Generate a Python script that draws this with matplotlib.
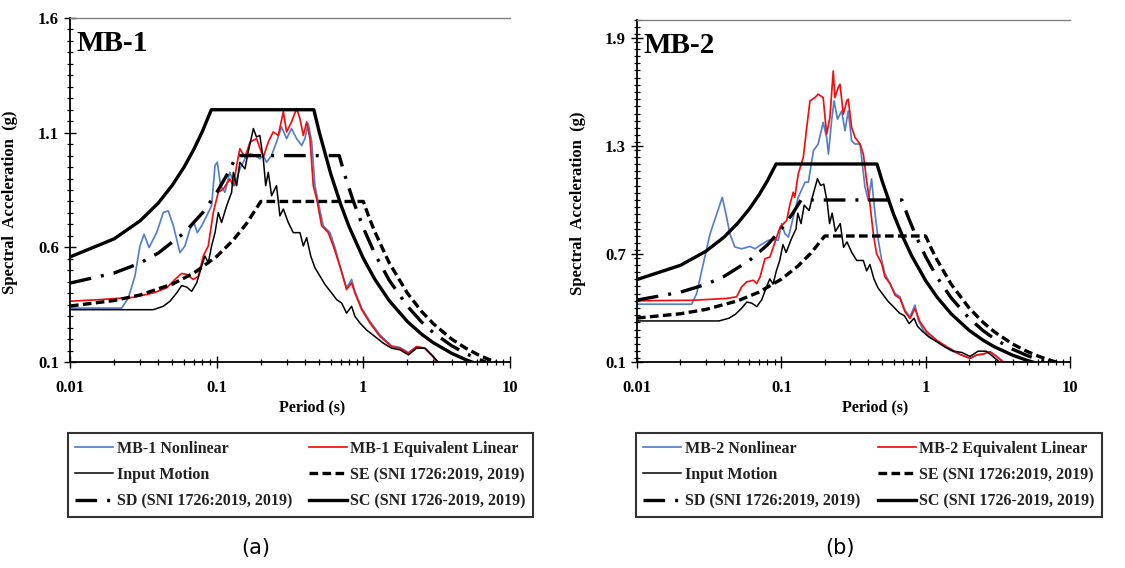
import numpy as np
import matplotlib
matplotlib.use("Agg")
import matplotlib.pyplot as plt
from matplotlib.ticker import FixedLocator, MultipleLocator, LogLocator, NullFormatter

plt.rcParams['font.family'] = ['Liberation Serif', 'DejaVu Serif']
plt.rcParams['font.weight'] = 'bold'

# response spectra: (period s, Sa g)
input_motion = [(0.010, 0.328), (0.037, 0.328), (0.0433, 0.343), (0.0481, 0.365), (0.0534, 0.401),
                (0.0577, 0.433), (0.0624, 0.427), (0.0676, 0.408), (0.0731, 0.445), (0.0791, 0.518),
                (0.0832, 0.562), (0.0877, 0.533), (0.0924, 0.606), (0.0975, 0.664), (0.1026, 0.752),
                (0.108, 0.708), (0.117, 0.781), (0.1265, 0.840), (0.130, 0.927), (0.137, 0.869),
                (0.144, 0.971), (0.156, 0.942), (0.164, 1.015), (0.178, 1.118), (0.187, 1.081),
                (0.197, 1.088), (0.208, 0.986), (0.216, 0.869), (0.225, 0.927), (0.237, 0.825),
                (0.256, 0.869), (0.270, 0.737), (0.285, 0.767), (0.308, 0.708), (0.333, 0.664),
                (0.370, 0.664), (0.390, 0.606), (0.411, 0.642), (0.438, 0.562), (0.468, 0.511),
                (0.507, 0.474), (0.548, 0.438), (0.608, 0.401), (0.658, 0.372), (0.712, 0.357),
                (0.769, 0.313), (0.832, 0.343), (0.877, 0.299), (0.949, 0.270), (1.05, 0.240),
                (1.20, 0.211), (1.37, 0.182), (1.56, 0.160), (1.78, 0.153), (2.03, 0.131),
                (2.31, 0.160), (2.63, 0.160), (2.92, 0.131), (3.25, 0.100)]

mb1_nl = [(0.010, 0.335), (0.0225, 0.335), (0.025, 0.379), (0.0277, 0.474), (0.030, 0.606),
          (0.032, 0.657), (0.0346, 0.599), (0.039, 0.664), (0.0433, 0.752), (0.0468, 0.759),
          (0.0507, 0.694), (0.0562, 0.577), (0.0608, 0.606), (0.0658, 0.679), (0.070, 0.708),
          (0.0738, 0.664), (0.0791, 0.694), (0.0855, 0.737), (0.0924, 0.781), (0.0975, 0.957),
          (0.101, 0.971), (0.1064, 0.869), (0.114, 0.840), (0.123, 0.927), (0.133, 0.869),
          (0.144, 0.942), (0.156, 0.986), (0.169, 1.008), (0.182, 1.001), (0.197, 0.986),
          (0.208, 1.001), (0.219, 0.971), (0.237, 1.001), (0.256, 1.059), (0.277, 1.125),
          (0.300, 1.074), (0.324, 1.118), (0.351, 1.074), (0.380, 1.044), (0.400, 1.074),
          (0.421, 1.140), (0.445, 1.059), (0.468, 0.869), (0.493, 0.796), (0.533, 0.694),
          (0.593, 0.664), (0.641, 0.599), (0.693, 0.518), (0.769, 0.423), (0.832, 0.460),
          (0.877, 0.408), (0.975, 0.335), (1.11, 0.277), (1.30, 0.218), (1.56, 0.170),
          (1.78, 0.163), (2.03, 0.141), (2.31, 0.167), (2.63, 0.160), (3.00, 0.123), (3.16, 0.100)]

mb1_el = [(0.010, 0.365), (0.016, 0.372), (0.027, 0.382), (0.037, 0.401), (0.0456, 0.423),
          (0.052, 0.460), (0.0577, 0.486), (0.0624, 0.482), (0.0693, 0.460), (0.075, 0.474),
          (0.0811, 0.562), (0.0877, 0.606), (0.0949, 0.752), (0.1026, 0.840), (0.111, 0.854),
          (0.123, 0.898), (0.130, 0.869), (0.137, 0.957), (0.144, 1.030), (0.156, 0.993),
          (0.169, 1.059), (0.187, 1.074), (0.208, 0.993), (0.225, 1.059), (0.243, 1.103),
          (0.263, 1.088), (0.285, 1.191), (0.300, 1.103), (0.324, 1.147), (0.351, 1.205),
          (0.370, 1.161), (0.390, 1.088), (0.411, 1.147), (0.433, 1.074), (0.456, 0.869),
          (0.481, 0.811), (0.520, 0.694), (0.577, 0.664), (0.624, 0.606), (0.693, 0.518),
          (0.769, 0.416), (0.832, 0.445), (0.877, 0.401), (0.975, 0.328), (1.11, 0.270),
          (1.30, 0.211), (1.56, 0.167), (1.78, 0.160), (2.03, 0.138), (2.31, 0.167),
          (2.63, 0.160), (3.00, 0.123), (3.16, 0.100)]

mb2_nl = [(0.010, 0.421), (0.0239, 0.421), (0.0259, 0.480), (0.0288, 0.646), (0.0321, 0.812),
          (0.0357, 0.923), (0.039, 1.015), (0.0418, 0.905), (0.044, 0.812), (0.0477, 0.739),
          (0.0531, 0.729), (0.0607, 0.742), (0.0657, 0.729), (0.0712, 0.748), (0.0812, 0.776),
          (0.0881, 0.779), (0.0953, 0.776), (0.1005, 0.868), (0.106, 0.812), (0.112, 0.794),
          (0.121, 0.905), (0.131, 1.015), (0.146, 1.099), (0.154, 1.099), (0.167, 1.274),
          (0.180, 1.311), (0.195, 1.431), (0.206, 1.348), (0.212, 1.255), (0.223, 1.440),
          (0.232, 1.551), (0.245, 1.449), (0.262, 1.495), (0.276, 1.385), (0.291, 1.495),
          (0.307, 1.329), (0.324, 1.311), (0.351, 1.311), (0.380, 1.071), (0.401, 0.997),
          (0.422, 1.117), (0.446, 0.923), (0.470, 0.776), (0.496, 0.665), (0.522, 0.591),
          (0.566, 0.536), (0.614, 0.480), (0.664, 0.462), (0.719, 0.388), (0.779, 0.351),
          (0.843, 0.416), (0.889, 0.333), (0.963, 0.277), (1.07, 0.240), (1.26, 0.203),
          (1.47, 0.166), (1.73, 0.142), (2.03, 0.120), (2.26, 0.139), (2.51, 0.144),
          (2.79, 0.157), (3.11, 0.130), (3.45, 0.100)]

mb2_el = [(0.010, 0.440), (0.0246, 0.443), (0.0418, 0.453), (0.049, 0.462), (0.0531, 0.517),
          (0.0575, 0.545), (0.064, 0.554), (0.0675, 0.536), (0.0712, 0.572), (0.0771, 0.674),
          (0.0834, 0.683), (0.0881, 0.739), (0.0929, 0.794), (0.098, 0.849), (0.109, 0.886),
          (0.115, 0.979), (0.121, 1.043), (0.124, 1.015), (0.131, 1.145), (0.142, 1.237),
          (0.150, 1.403), (0.158, 1.551), (0.171, 1.569), (0.180, 1.588), (0.195, 1.569),
          (0.206, 1.366), (0.217, 1.458), (0.229, 1.717), (0.235, 1.569), (0.248, 1.625),
          (0.255, 1.643), (0.269, 1.477), (0.284, 1.551), (0.291, 1.560), (0.307, 1.403),
          (0.324, 1.348), (0.351, 1.311), (0.370, 1.255), (0.390, 1.108), (0.411, 0.979),
          (0.434, 0.812), (0.457, 0.702), (0.496, 0.646), (0.522, 0.573), (0.566, 0.536),
          (0.614, 0.471), (0.664, 0.453), (0.719, 0.379), (0.779, 0.342), (0.843, 0.397),
          (0.914, 0.323), (1.02, 0.268), (1.19, 0.222), (1.40, 0.185), (1.73, 0.142),
          (2.03, 0.120), (2.26, 0.139), (2.51, 0.144), (2.79, 0.157), (3.11, 0.130), (3.45, 0.100)]

# design spectra SNI 1726:2019
se_spec = [(0.01, 0.344), (0.02, 0.368), (0.03, 0.392), (0.05, 0.44), (0.07, 0.488), (0.1, 0.56),
           (0.13, 0.632), (0.16, 0.704), (0.2, 0.8), (1.0, 0.8), (1.1, 0.727), (1.2, 0.667),
           (1.5, 0.533), (2, 0.4), (2.5, 0.32), (3, 0.267), (4, 0.2), (5, 0.16), (6, 0.133),
           (7, 0.114), (8, 0.1)]
sd_spec = [(0.01, 0.444), (0.02, 0.488), (0.03, 0.531), (0.04, 0.575), (0.06, 0.663), (0.08, 0.750),
           (0.1, 0.838), (0.12, 0.926), (0.137, 1.0), (0.685, 1.0), (0.75, 0.913), (0.85, 0.806),
           (1.0, 0.685), (1.2, 0.571), (1.5, 0.457), (2, 0.343), (2.5, 0.274), (3, 0.228),
           (4, 0.171), (5, 0.137), (6, 0.114), (6.85, 0.1)]
sc_spec = [(0.01, 0.558), (0.02, 0.637), (0.03, 0.715), (0.04, 0.793), (0.05, 0.872), (0.06, 0.950),
           (0.07, 1.028), (0.08, 1.106), (0.092, 1.2), (0.46, 1.2), (0.5, 1.104), (0.6, 0.92),
           (0.7, 0.789), (0.8, 0.69), (1.0, 0.552), (1.2, 0.46), (1.5, 0.368), (2, 0.276),
           (2.5, 0.221), (3, 0.184), (4, 0.138), (5, 0.110), (5.5, 0.1)]

BLUE = '#5580C8'
RED = '#F01010'
FS = 11.5


def xy(pairs):
    a = np.array(pairs)
    return a[:, 0], a[:, 1]


def draw_panel(ax, name, nl, el, ylim, yticks, yminor):
    h = []
    h += ax.plot(*xy(nl), color=BLUE, lw=1.25, label=name + ' Nonlinear')
    h += ax.plot(*xy(el), color=RED, lw=1.25, label=name + ' Equivalent Linear')
    h += ax.plot(*xy(input_motion), color='black', lw=1.1, label='Input Motion')
    h += ax.plot(*xy(se_spec), color='black', lw=2.4, ls=(0, (2.6, 1.3)),
                 label='SE (SNI 1726:2019, 2019)')
    h += ax.plot(*xy(sd_spec), color='black', lw=2.4, ls=(0, (6.5, 3.0, 0.9, 3.0)),
                 label='SD (SNI 1726:2019, 2019)')
    h += ax.plot(*xy(sc_spec), color='black', lw=2.4, label='SC (SNI 1726-2019, 2019)')

    ax.set_xscale('log')
    ax.set_xlim(0.01, 10)
    ax.set_ylim(*ylim)
    ax.xaxis.set_major_locator(FixedLocator([0.01, 0.1, 1, 10]))
    ax.xaxis.set_major_formatter(plt.FixedFormatter(['0.01', '0.1', '1', '10']))
    ax.xaxis.set_minor_locator(LogLocator(base=10, subs=np.arange(2, 10)))
    ax.xaxis.set_minor_formatter(NullFormatter())
    ax.yaxis.set_major_locator(FixedLocator(yticks))
    ax.yaxis.set_minor_locator(MultipleLocator(yminor))
    ax.tick_params(which='major', direction='inout', length=8, width=1.0, labelsize=12, pad=4)
    ax.tick_params(which='minor', direction='inout', length=5, width=0.9)
    ax.tick_params(axis='x', which='major', pad=9)
    for lab in ax.get_xticklabels() + ax.get_yticklabels():
        lab.set_fontweight('bold')

    ax.spines['right'].set_visible(False)
    ax.spines['top'].set_color('#808080')
    ax.spines['top'].set_linewidth(1.0)
    ax.spines['left'].set_linewidth(1.3)
    ax.spines['bottom'].set_linewidth(1.3)

    ax.set_xlabel('Period (s)', fontsize=FS, fontweight='bold')
    ax.xaxis.set_label_coords(0.55, -0.11)
    ax.set_ylabel('Spectral  Acceleration  (g)', fontsize=12, fontweight='bold')
    ax.yaxis.set_label_coords(-0.118, 0.465)
    ax.text(0.014, 0.925, name, transform=ax.transAxes, fontsize=21, fontweight='bold',
            ha='left', va='center')
    return h


fig = plt.figure(figsize=(11.25, 5.68), dpi=100)
ax1 = fig.add_axes([0.0622, 0.3627, 0.3911, 0.6056])
ax2 = fig.add_axes([0.5662, 0.3627, 0.3849, 0.6021])

h1 = draw_panel(ax1, 'MB-1', mb1_nl, mb1_el, (0.1, 1.6), [0.1, 0.6, 1.1, 1.6], 0.05)
h2 = draw_panel(ax2, 'MB-2', mb2_nl, mb2_el, (0.1, 2.0), [0.1, 0.7, 1.3, 1.9], 0.04)

order = [0, 2, 4, 1, 3, 5]
for h, x0, w in [(h1, 0.0604, 0.4134), (h2, 0.5653, 0.4143)]:
    hh = [h[i] for i in order]
    leg = fig.legend(hh, [l.get_label() for l in hh], loc='center',
                     bbox_to_anchor=(x0, 0.0898, w, 0.148), bbox_transform=fig.transFigure,
                     mode='expand', ncol=2, frameon=True, fancybox=False, edgecolor='black',
                     prop={'size': FS, 'weight': 'bold'}, handlelength=2.4, handletextpad=0.2,
                     labelspacing=0.65, borderaxespad=0, borderpad=0.45, columnspacing=1.0)
    leg.get_frame().set_linewidth(1.5)
    for t in leg.get_texts():
        t.set_color('#222222')

fig.text(0.227, 0.035, '(a)', fontsize=15, family='DejaVu Sans', fontweight='normal',
         ha='center', va='center')
fig.text(0.747, 0.035, '(b)', fontsize=15, family='DejaVu Sans', fontweight='normal',
         ha='center', va='center')

fig.savefig('out.png', dpi=100)
